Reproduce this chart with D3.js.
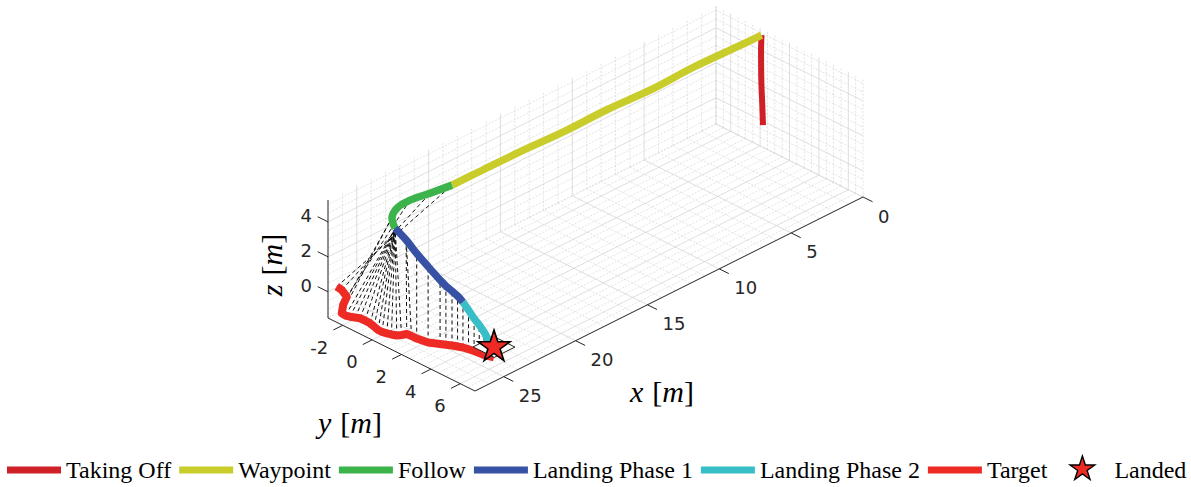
<!DOCTYPE html>
<html>
<head>
<meta charset="utf-8">
<script src="https://cdn.jsdelivr.net/npm/d3@7"></script>
<style>
body { margin: 0; background: #fff; }
svg text { font-family: "DejaVu Sans", sans-serif; fill: #262626; }
svg text.serif { font-family: "Liberation Serif", serif; fill: #000; }
</style>
</head>
<body>
<div id="chart"></div>
<script>
// axis limits and ticks (x, y, z in metres)
const xLim = [0, 27], yLim = [-3, 7], zLim = [-1.5, 5.25];
const xTicks = [0, 5, 10, 15, 20, 25];
const yTicks = [-2, 0, 2, 4, 6];
const zTicks = [0, 2, 4];

// drone trajectory, one array per phase: [x, y, z]
const takeOff = [[0.28, 0.47, 0], [0.30, 0.44, 1.2], [0.33, 0.41, 2.4], [0.34, 0.40, 3.6], [0.34, 0.40, 4.5], [0.33, 0.42, 5.15]];
const waypoint = [[0.33, 0.42, 5.15], [2, 0.45, 5.2], [5, 0.35, 5.2], [8, 0.40, 5.17], [11, 0.30, 5.2], [14, 0.30, 5.18], [17, 0.20, 5.2], [19.5, 0.20, 5.22], [21.6, 0.16, 5.2]];
const follow = [[21.6, 0.16, 5.2], [22.86, -0.10, 5.15], [23.86, -0.49, 5.0], [24.52, -0.66, 4.8], [25.06, -0.54, 4.5], [25.5, 0.10, 4.3]];
const landing1 = [[25.5, 0.10, 4.3], [25.45, 0.80, 3.91], [25.36, 1.43, 3.37], [25.24, 2.09, 2.84], [24.93, 2.60, 2.16], [24.78, 2.85, 1.86], [24.62, 3.11, 1.61], [24.5, 3.37, 1.39], [24.38, 3.62, 1.1]];
const landing2 = [[24.38, 3.62, 1.1], [24.31, 3.93, 0.74], [24.24, 4.24, 0.36], [24.2, 4.55, 0.1], [24.17, 4.85, -0.19], [24.08, 5.10, -0.63], [24.0, 5.36, -0.9]];

// target (moving platform) positions
const target = [
  [26.6, -2.8, 0.21], [26.3, -2.75, -0.08], [26.0, -2.7, -0.57], [26.15, -2.8, -1.02],
  [26.2, -2.85, -1.5], [26.22, -2.57, -1.5], [26.15, -2.34, -1.5], [26.03, -2.11, -1.5],
  [25.91, -1.89, -1.5], [25.89, -1.57, -1.5], [25.91, -1.20, -1.5], [26.0, -0.85, -1.5],
  [26.1, -0.47, -1.5], [26.1, -0.2, -1.5], [26.03, 0.05, -1.5], [25.95, 0.29, -1.5],
  [25.84, 0.54, -1.5], [25.64, 0.67, -1.5], [25.39, 0.78, -1.5], [25.36, 1.08, -1.5],
  [25.36, 1.43, -1.5], [25.3, 1.76, -1.5], [25.24, 2.09, -1.5], [24.93, 2.60, -1.5],
  [24.78, 2.85, -1.5], [24.62, 3.11, -1.5], [24.5, 3.37, -1.5], [24.38, 3.62, -1.5],
  [24.31, 3.93, -1.5], [24.24, 4.24, -1.5], [24.2, 4.55, -1.5], [24.17, 4.85, -1.5],
  [24.08, 5.10, -1.5], [24.0, 5.36, -1.5]
];

// dashed links: target index -> drone index (drone = follow + landing1 + landing2)
const linkTarget = [0, 1, 2, 3, 4, 5, 6, 7, 8, 9, 10, 11, 12, 13, 14, 15, 16, 17, 18, 19, 20, 22, 23, 24, 25, 26, 27, 28, 29, 30, 31, 32, 33];
const linkDrone  = [0, 1, 2, 3, 4, 5, 5, 5, 5, 5, 5, 5, 5, 5, 5, 5, 5, 5, 6, 6, 7, 8, 9, 10, 11, 12, 13, 14, 15, 16, 17, 18, 19];

// landing pad corners and landed point
const pad = [[23.28, 4.64, -0.9], [24.72, 4.64, -0.9], [24.72, 6.08, -0.9], [23.28, 6.08, -0.9]];
const landed = [24.0, 5.36, -0.9];

const legendNames = ["Taking Off", "Waypoint", "Follow", "Landing Phase 1", "Landing Phase 2", "Target", "Landed"];
const legendColors = ["#cf2027", "#c9cd2c", "#3cb44b", "#3752a4", "#38bec6", "#ee2a24", "#ee2a24"];

const width = 1191, height = 487;
const svg = d3.select("#chart").append("svg")
    .attr("width", width)
    .attr("height", height)
    .style("background", "#fff");

// orthographic view: each axis is a linear scale onto a screen vector
const origin = [328, 318]; // corner (xmax, ymin, zmin)
const xOff = d3.scaleLinear().domain(xLim).range([[388, -194], [0, 0]]);
const yOff = d3.scaleLinear().domain(yLim).range([[0, 0], [147, 73]]);
const zOff = d3.scaleLinear().domain(zLim).range([0, -118]);

function proj(p) {
    const a = xOff(p[0]).slice(), b = yOff(p[1]).slice();
    return [origin[0] + a[0] + b[0], origin[1] + a[1] + b[1] + zOff(p[2])];
}
const line3 = d3.line().x(d => proj(d)[0]).y(d => proj(d)[1]);
const curve3 = d3.line().x(d => proj(d)[0]).y(d => proj(d)[1]).curve(d3.curveCatmullRom);

// grid
const [x0, x1] = xLim, [y0, y1] = yLim, [z0, z1] = zLim;
const xGrid = d3.range(x0, x1 + 1e-6, 1);
const yGrid = d3.range(y0, y1 + 1e-6, 0.5);
const zGrid = d3.range(z0, z1, 0.5);
const isMajor = (v, step) => Math.abs(v / step - Math.round(v / step)) < 1e-6;

const gridSegs = [];
xGrid.forEach(x => {
    const m = isMajor(x, 5);
    if (x < x1) gridSegs.push({ s: [[x, y0, z0], [x, y1, z0]], m });
    gridSegs.push({ s: [[x, y0, z0], [x, y0, z1]], m });
});
yGrid.forEach(y => {
    const m = isMajor(y, 2);
    gridSegs.push({ s: [[x0, y, z0], [x1, y, z0]], m });
    gridSegs.push({ s: [[x0, y, z0], [x0, y, z1]], m });
});
zGrid.forEach(z => {
    const m = isMajor(z, 2);
    gridSegs.push({ s: [[x0, y0, z], [x1, y0, z]], m });
    gridSegs.push({ s: [[x0, y0, z], [x0, y1, z]], m });
});

svg.append("g").selectAll("path")
    .data(gridSegs)
    .enter().append("path")
    .attr("d", d => line3(d.s))
    .attr("fill", "none")
    .attr("stroke", d => d.m ? "#d6d6d6" : "#d2d2d2")
    .attr("stroke-width", d => d.m ? 0.8 : 0.6)
    .attr("stroke-dasharray", d => d.m ? null : "2,1.5");

// axis lines
const axes = svg.append("g").attr("stroke", "#262626").attr("stroke-width", 1).attr("fill", "none");
axes.append("path").attr("d", line3([[x1, y0, z0], [x1, y0, z1]]));
axes.append("path").attr("d", line3([[x1, y0, z0], [x1, y1, z0]]));
axes.append("path").attr("d", line3([[x1, y1, z0], [x0, y1, z0]]));

zTicks.forEach(z => {
    axes.append("path").attr("d", line3([[x1, y0, z], [x1, y0 - 0.7, z]]));
    const p = proj([x1, y0, z]);
    svg.append("text").attr("x", p[0] - 16).attr("y", p[1] + 0.5)
        .attr("text-anchor", "end").attr("font-size", 18).text(z);
});
yTicks.forEach(y => {
    axes.append("path").attr("d", line3([[x1, y, z0], [x1 + 0.65, y, z0]]));
    const p = proj([x1, y, z0]);
    svg.append("text").attr("x", p[0] - 14.5).attr("y", p[1] + 28.5)
        .attr("text-anchor", "end").attr("font-size", 18).text(y);
});
xTicks.forEach(x => {
    axes.append("path").attr("d", line3([[x, y1, z0], [x, y1 + 0.65, z0]]));
    const p = proj([x, y1, z0]);
    svg.append("text").attr("x", p[0] + 15).attr("y", p[1] + 25.5)
        .attr("text-anchor", "start").attr("font-size", 18).text(x);
});

function axisLabel(cx, cy, letter, rot) {
    const t = svg.append("text").attr("class", "serif")
        .attr("font-size", 30).attr("text-anchor", "middle")
        .attr("transform", `translate(${cx},${cy}) rotate(${rot})`)
        .attr("y", 9);
    t.append("tspan").attr("font-style", "italic").text(letter);
    t.append("tspan").attr("dx", 9).text("[");
    t.append("tspan").attr("font-style", "italic").text("m");
    t.append("tspan").text("]");
}
axisLabel(662, 393, "x", 0);
axisLabel(350, 424, "y", 0);
axisLabel(273, 265, "z", -90);

// dashed links between drone and target
const drone = follow.concat(landing1.slice(1), landing2.slice(1));
svg.append("g").selectAll("path")
    .data(linkTarget)
    .enter().append("path")
    .attr("d", (t, i) => line3([target[t], drone[linkDrone[i]]]))
    .attr("stroke", "#111")
    .attr("stroke-width", 1)
    .attr("stroke-dasharray", "4,3");

// target path
svg.append("path").attr("d", line3(target))
    .attr("fill", "none").attr("stroke", legendColors[5])
    .attr("stroke-width", 8).attr("stroke-linejoin", "round");

// landing pad
svg.append("path").attr("d", line3(pad) + "Z")
    .attr("fill", "#fff").attr("stroke", "#222").attr("stroke-width", 1);

// drone phases
[takeOff, waypoint, follow, landing1, landing2].forEach((seg, i) => {
    svg.append("path").attr("d", curve3(seg))
        .attr("fill", "none").attr("stroke", legendColors[i])
        .attr("stroke-width", i === 0 ? 6 : 7.5)
        .attr("stroke-linejoin", "round");
});

// landed star
const lp = proj(landed);
svg.append("path")
    .attr("d", d3.symbol().type(d3.symbolStar).size(320)())
    .attr("transform", `translate(${lp[0]},${lp[1]})`)
    .attr("fill", legendColors[6]).attr("stroke", "#000").attr("stroke-width", 1.6);

// legend
const legend = svg.append("g");
let lx = 7;
const ly = 470;
legendNames.forEach((name, i) => {
    if (i < 6) {
        legend.append("line").attr("x1", lx).attr("x2", lx + 54).attr("y1", ly).attr("y2", ly)
            .attr("stroke", legendColors[i]).attr("stroke-width", 7);
    } else {
        legend.append("path")
            .attr("d", d3.symbol().type(d3.symbolStar).size(190)())
            .attr("transform", `translate(${lx + 27},${ly - 1})`)
            .attr("fill", legendColors[i]).attr("stroke", "#000").attr("stroke-width", 1.4);
    }
    const t = legend.append("text").attr("class", "serif")
        .attr("x", lx + 59).attr("y", ly + 7.5)
        .attr("font-size", 24).text(name);
    lx = lx + 59 + t.node().getComputedTextLength() + 8;
});
</script>
</body>
</html>
